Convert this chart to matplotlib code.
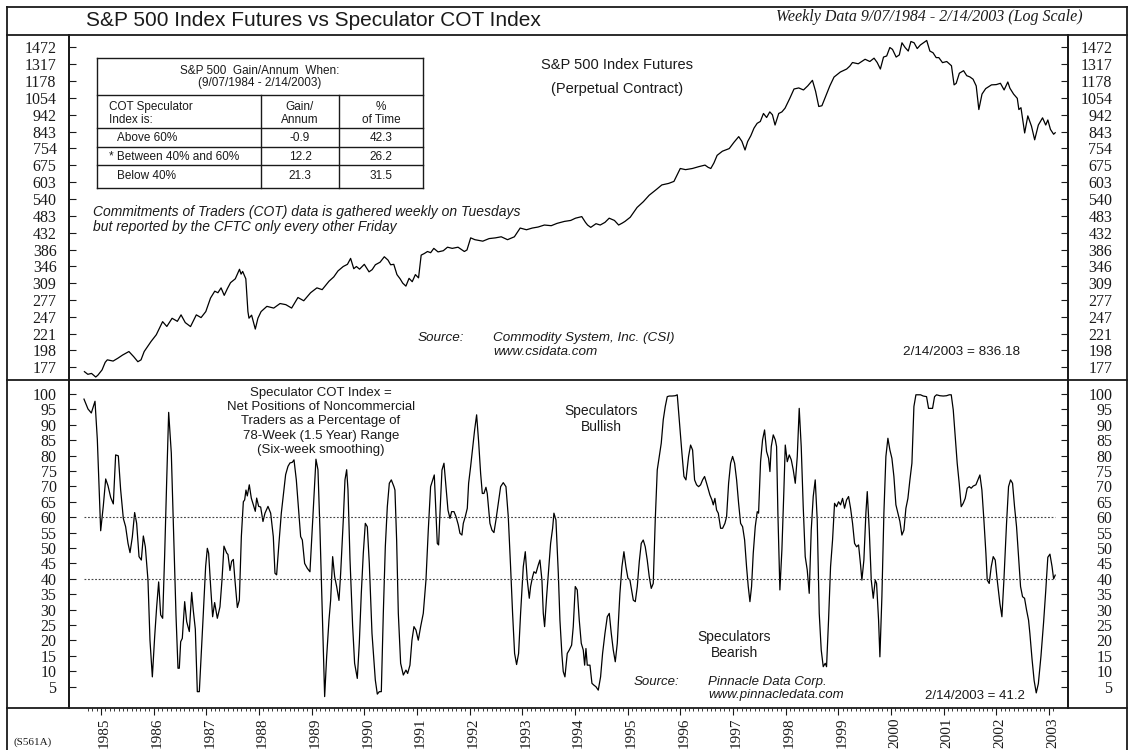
import matplotlib
matplotlib.use("Agg")
import matplotlib.pyplot as plt
from matplotlib.lines import Line2D
from matplotlib.ticker import FixedLocator, NullLocator, NullFormatter
from matplotlib.transforms import ScaledTranslation

W, H = 1129, 750

# S&P 500 futures, weekly closes (decimal year, index level)
sp_year = [1984.685, 1984.75, 1984.82, 1984.90, 1984.94, 1985.02, 1985.08, 1985.12, 1985.23, 1985.32,
           1985.41, 1985.53, 1985.62, 1985.70, 1985.76, 1985.82, 1985.95, 1986.05, 1986.17, 1986.25,
           1986.35, 1986.45, 1986.52, 1986.60, 1986.70, 1986.81, 1986.90, 1986.99, 1987.08, 1987.16,
           1987.22, 1987.28, 1987.34, 1987.40, 1987.46, 1987.55, 1987.63, 1987.66, 1987.69, 1987.75,
           1987.79, 1987.81, 1987.86, 1987.93, 1987.98, 1988.04, 1988.15, 1988.28, 1988.40, 1988.51,
           1988.62, 1988.74, 1988.85, 1988.98, 1989.10, 1989.20, 1989.33, 1989.42, 1989.50, 1989.60,
           1989.68, 1989.74, 1989.80, 1989.85, 1989.91, 1990.00, 1990.09, 1990.15, 1990.21, 1990.30,
           1990.38, 1990.45, 1990.50, 1990.56, 1990.62, 1990.68, 1990.73, 1990.79, 1990.85, 1990.91,
           1990.97, 1991.03, 1991.08, 1991.14, 1991.20, 1991.26, 1991.32, 1991.40, 1991.50, 1991.58,
           1991.67, 1991.78, 1991.90, 1991.95, 1992.02, 1992.10, 1992.25, 1992.37, 1992.49, 1992.60,
           1992.72, 1992.85, 1992.96, 1993.08, 1993.19, 1993.30, 1993.42, 1993.55, 1993.66, 1993.80,
           1993.92, 1994.01, 1994.08, 1994.13, 1994.20, 1994.24, 1994.30, 1994.40, 1994.48, 1994.57,
           1994.65, 1994.75, 1994.83, 1994.90, 1994.95, 1995.05, 1995.18, 1995.30, 1995.41, 1995.55,
           1995.65, 1995.78, 1995.88, 1996.00, 1996.10, 1996.23, 1996.35, 1996.47, 1996.53, 1996.58,
           1996.64, 1996.70, 1996.80, 1996.93, 1997.02, 1997.11, 1997.17, 1997.23, 1997.28, 1997.34,
           1997.40, 1997.46, 1997.52, 1997.58, 1997.64, 1997.70, 1997.75, 1997.80, 1997.87, 1997.93,
           1997.99, 1998.08, 1998.16, 1998.25, 1998.34, 1998.42, 1998.51, 1998.57, 1998.63, 1998.69,
           1998.75, 1998.84, 1998.92, 1999.04, 1999.16, 1999.22, 1999.27, 1999.38, 1999.51, 1999.60,
           1999.68, 1999.74, 1999.80, 1999.86, 1999.92, 1999.98, 2000.03, 2000.10, 2000.16, 2000.21,
           2000.27, 2000.33, 2000.38, 2000.44, 2000.50, 2000.56, 2000.62, 2000.68, 2000.74, 2000.80,
           2000.86, 2000.91, 2000.98, 2001.06, 2001.15, 2001.20, 2001.24, 2001.30, 2001.38, 2001.44,
           2001.50, 2001.56, 2001.62, 2001.67, 2001.73, 2001.80, 2001.91, 2002.00, 2002.08, 2002.15,
           2002.22, 2002.26, 2002.33, 2002.40, 2002.43, 2002.47, 2002.54, 2002.60, 2002.67, 2002.73,
           2002.80, 2002.88, 2002.94, 2002.98, 2003.03, 2003.09, 2003.12]
sp_value = [172, 169, 170, 166, 168, 174, 183, 186, 184.5, 188,
            192, 196.5, 190, 183.7, 186, 196.5, 210, 219.6, 239.5, 232,
            244.9, 240, 250.5, 238, 231.8, 250.5, 246, 256, 280, 293,
            290, 299.5, 285, 298, 310, 318, 338.7, 328, 334, 318,
            256, 245, 250, 228, 245, 256, 265, 262, 270, 268,
            262, 281, 275, 290, 299.5, 296, 313, 322, 335, 345,
            350, 364, 340, 345, 339, 350, 333, 338, 349, 355,
            368, 360, 349, 350, 327, 318, 309, 303, 319, 312,
            327, 320, 372, 376, 381, 378, 389, 380, 383, 392,
            389, 392, 381, 385, 417, 412, 408, 415, 417, 420,
            412, 420, 445, 440, 445, 448, 454, 452, 459, 465,
            468, 475, 478, 480, 462, 454, 447, 458, 454, 462,
            475, 468, 454, 460, 465, 478, 510, 530, 553, 575,
            592, 598, 606, 660, 655, 660, 668, 675, 665, 660,
            685, 720, 740, 753, 785, 815, 790, 746, 789, 820,
            862, 890, 901, 950, 925, 960, 942, 880, 950, 960,
            984, 1050, 1117, 1125, 1110, 1140, 1183, 1100, 995, 1000,
            1054, 1140, 1209, 1250, 1275, 1300, 1331, 1320, 1360, 1340,
            1370, 1331, 1275, 1380, 1390, 1470, 1452, 1380, 1400, 1517,
            1470, 1436, 1530, 1517, 1460, 1495, 1517, 1540, 1436, 1420,
            1375, 1375, 1330, 1340, 1303, 1148, 1160, 1240, 1261, 1220,
            1210, 1192, 1140, 975, 1080, 1120, 1148, 1150, 1160, 1110,
            1170, 1123, 1080, 1050, 975, 987, 835, 935, 873, 798,
            880, 923, 880, 910, 855, 828, 836.18]

# Speculator COT index (percent of 78-week range)
cot_year = [1984.677, 1984.753, 1984.816, 1984.886, 1984.930, 1984.994, 1985.044, 1985.089, 1985.133, 1985.184,
            1985.234, 1985.278, 1985.329, 1985.373, 1985.424, 1985.468, 1985.513, 1985.551, 1985.595, 1985.639,
            1985.677, 1985.722, 1985.766, 1985.804, 1985.842, 1985.892, 1985.930, 1985.975, 1986.019, 1986.057,
            1986.095, 1986.133, 1986.171, 1986.209, 1986.247, 1986.285, 1986.335, 1986.386, 1986.424, 1986.462,
            1986.487, 1986.513, 1986.544, 1986.589, 1986.627, 1986.677, 1986.722, 1986.753, 1986.791, 1986.829,
            1986.867, 1986.905, 1986.943, 1986.987, 1987.019, 1987.044, 1987.082, 1987.120, 1987.158, 1987.209,
            1987.259, 1987.297, 1987.335, 1987.386, 1987.411, 1987.449, 1987.481, 1987.513, 1987.544, 1987.589,
            1987.627, 1987.665, 1987.703, 1987.728, 1987.753, 1987.778, 1987.816, 1987.854, 1987.892, 1987.930,
            1987.956, 1987.994, 1988.032, 1988.076, 1988.114, 1988.171, 1988.222, 1988.272, 1988.304, 1988.335,
            1988.380, 1988.424, 1988.475, 1988.506, 1988.551, 1988.589, 1988.633, 1988.665, 1988.709, 1988.747,
            1988.791, 1988.823, 1988.867, 1988.918, 1988.968, 1989.000, 1989.044, 1989.082, 1989.120, 1989.158,
            1989.203, 1989.247, 1989.285, 1989.329, 1989.361, 1989.399, 1989.437, 1989.475, 1989.519, 1989.551,
            1989.601, 1989.633, 1989.665, 1989.690, 1989.728, 1989.778, 1989.816, 1989.867, 1989.905, 1989.943,
            1989.981, 1990.019, 1990.057, 1990.095, 1990.146, 1990.209, 1990.247, 1990.285, 1990.323, 1990.361,
            1990.399, 1990.437, 1990.475, 1990.513, 1990.563, 1990.582, 1990.614, 1990.646, 1990.690, 1990.741,
            1990.791, 1990.823, 1990.867, 1990.905, 1990.943, 1990.981, 1991.025, 1991.070, 1991.120, 1991.171,
            1991.215, 1991.259, 1991.310, 1991.329, 1991.361, 1991.386, 1991.411, 1991.437, 1991.475, 1991.513,
            1991.551, 1991.589, 1991.627, 1991.658, 1991.703, 1991.741, 1991.785, 1991.816, 1991.854, 1991.880,
            1991.918, 1991.956, 1991.981, 1992.019, 1992.057, 1992.095, 1992.133, 1992.171, 1992.209, 1992.241,
            1992.272, 1992.310, 1992.335, 1992.386, 1992.424, 1992.462, 1992.500, 1992.544, 1992.589, 1992.639,
            1992.690, 1992.734, 1992.778, 1992.816, 1992.854, 1992.892, 1992.930, 1992.968, 1993.019, 1993.057,
            1993.095, 1993.133, 1993.158, 1993.196, 1993.222, 1993.259, 1993.304, 1993.335, 1993.373, 1993.399,
            1993.424, 1993.462, 1993.500, 1993.538, 1993.576, 1993.601, 1993.639, 1993.684, 1993.715, 1993.753,
            1993.778, 1993.810, 1993.854, 1993.892, 1993.937, 1993.968, 1994.006, 1994.044, 1994.082, 1994.120,
            1994.158, 1994.184, 1994.209, 1994.234, 1994.285, 1994.323, 1994.361, 1994.399, 1994.443, 1994.487,
            1994.525, 1994.570, 1994.614, 1994.652, 1994.690, 1994.728, 1994.766, 1994.804, 1994.854, 1994.892,
            1994.930, 1994.968, 1995.006, 1995.044, 1995.070, 1995.108, 1995.146, 1995.184, 1995.222, 1995.259,
            1995.297, 1995.335, 1995.373, 1995.411, 1995.449, 1995.487, 1995.525, 1995.563, 1995.601, 1995.639,
            1995.677, 1995.715, 1995.753, 1995.791, 1995.842, 1995.905, 1995.943, 1995.994, 1996.032, 1996.070,
            1996.108, 1996.158, 1996.196, 1996.234, 1996.272, 1996.310, 1996.348, 1996.386, 1996.424, 1996.462,
            1996.500, 1996.563, 1996.601, 1996.627, 1996.658, 1996.690, 1996.722, 1996.766, 1996.804, 1996.848,
            1996.880, 1996.918, 1996.956, 1996.994, 1997.032, 1997.070, 1997.108, 1997.146, 1997.184, 1997.222,
            1997.259, 1997.291, 1997.323, 1997.354, 1997.386, 1997.424, 1997.462, 1997.487, 1997.525, 1997.563,
            1997.601, 1997.639, 1997.677, 1997.703, 1997.728, 1997.766, 1997.804, 1997.829, 1997.854, 1997.892,
            1997.930, 1997.968, 1997.994, 1998.032, 1998.070, 1998.108, 1998.146, 1998.184, 1998.222, 1998.259,
            1998.297, 1998.335, 1998.373, 1998.411, 1998.449, 1998.487, 1998.525, 1998.563, 1998.601, 1998.639,
            1998.677, 1998.715, 1998.753, 1998.778, 1998.816, 1998.854, 1998.892, 1998.930, 1998.968, 1999.006,
            1999.044, 1999.082, 1999.120, 1999.158, 1999.196, 1999.234, 1999.272, 1999.310, 1999.348, 1999.386,
            1999.424, 1999.449, 1999.487, 1999.525, 1999.551, 1999.589, 1999.627, 1999.665, 1999.703, 1999.728,
            1999.766, 1999.791, 1999.829, 1999.867, 1999.905, 1999.943, 1999.981, 2000.019, 2000.057, 2000.095,
            2000.133, 2000.171, 2000.209, 2000.247, 2000.285, 2000.323, 2000.361, 2000.399, 2000.437, 2000.475,
            2000.519, 2000.563, 2000.614, 2000.677, 2000.715, 2000.753, 2000.791, 2000.829, 2000.867, 2000.930,
            2000.994, 2001.057, 2001.108, 2001.146, 2001.184, 2001.222, 2001.259, 2001.297, 2001.335, 2001.373,
            2001.411, 2001.449, 2001.487, 2001.525, 2001.563, 2001.614, 2001.652, 2001.690, 2001.728, 2001.766,
            2001.804, 2001.829, 2001.867, 2001.905, 2001.943, 2001.981, 2002.019, 2002.070, 2002.108, 2002.146,
            2002.196, 2002.234, 2002.272, 2002.310, 2002.348, 2002.386, 2002.424, 2002.462, 2002.500, 2002.538,
            2002.576, 2002.614, 2002.639, 2002.680, 2002.720, 2002.760, 2002.800, 2002.850, 2002.900, 2002.940,
            2002.980, 2003.020, 2003.060, 2003.090, 2003.120]
cot_value = [98.3, 95.1, 93.8, 97.6, 85.3, 55.6, 63.7, 72.4, 70.2, 66.4,
             64.3, 80.2, 79.9, 68.9, 59.6, 56.9, 51.5, 48.5, 53.6, 61.5,
             58.0, 47.2, 46.1, 53.9, 50.4, 39.6, 20.1, 8.2, 21.2, 30.9,
             39.0, 28.3, 27.2, 47.8, 71.6, 94.0, 80.8, 50.4, 28.3, 11.0,
             11.0, 19.6, 20.7, 32.6, 26.1, 22.9, 35.6, 29.7, 23.7, 3.4,
             3.4, 15.8, 28.8, 44.0, 49.9, 48.3, 37.5, 27.7, 32.3, 27.2,
             30.9, 39.5, 50.6, 48.4, 47.9, 42.7, 45.7, 46.3, 39.5, 30.7,
             33.1, 53.7, 65.0, 65.6, 68.8, 66.9, 70.5, 66.2, 64.0, 61.9,
             66.2, 63.5, 63.3, 58.6, 61.3, 63.5, 61.3, 53.7, 41.8, 41.3,
             51.7, 61.3, 68.9, 73.8, 76.5, 77.6, 77.8, 78.6, 72.1, 63.5,
             53.7, 52.6, 45.0, 43.4, 42.3, 52.6, 66.7, 78.8, 75.4, 55.9,
             28.8, 1.8, 14.7, 26.6, 33.1, 47.2, 40.7, 37.5, 33.0, 41.8,
             59.1, 72.1, 75.4, 68.9, 46.5, 24.9, 12.6, 7.7, 19.1, 35.3,
             48.3, 58.0, 56.9, 45.0, 22.3, 7.2, 2.6, 3.4, 3.4, 28.8,
             50.4, 63.4, 71.0, 72.1, 69.9, 68.8, 52.6, 28.8, 12.6, 8.8,
             10.4, 9.3, 12.0, 20.1, 24.5, 23.4, 20.1, 24.5, 28.8, 39.6,
             55.8, 69.9, 72.6, 73.7, 61.3, 51.5, 51.0, 61.3, 75.3, 77.5,
             69.9, 62.3, 59.6, 61.8, 61.8, 60.2, 57.5, 54.8, 54.2, 58.0,
             60.2, 62.9, 71.0, 76.4, 82.4, 88.3, 93.2, 84.5, 74.2, 67.7,
             67.7, 69.7, 67.7, 58.0, 55.8, 55.0, 59.1, 64.5, 69.9, 71.2,
             69.9, 60.2, 43.9, 28.8, 15.8, 12.2, 15.8, 28.8, 43.9, 48.8,
             39.6, 33.7, 37.5, 40.7, 42.3, 41.8, 44.5, 46.1, 39.6, 28.8,
             24.5, 34.2, 42.9, 51.5, 56.4, 61.3, 59.1, 41.8, 26.6, 15.3,
             9.9, 8.2, 15.8, 16.9, 18.5, 24.5, 37.5, 36.4, 26.6, 19.1,
             16.9, 12.0, 17.4, 12.0, 12.0, 6.1, 5.5, 5.0, 3.9, 8.2,
             15.8, 22.3, 27.7, 28.8, 22.3, 16.9, 13.1, 19.1, 35.3, 43.9,
             48.8, 43.9, 40.2, 39.6, 36.9, 33.1, 32.6, 37.5, 45.6, 51.5,
             52.6, 50.4, 46.1, 40.7, 36.9, 38.5, 59.1, 75.3, 79.7, 84.0,
             91.6, 95.9, 99.1, 99.3, 99.3, 99.4, 99.7, 88.8, 80.7, 73.2,
             72.1, 79.7, 83.4, 81.8, 72.1, 70.5, 69.9, 70.5, 72.1, 73.2,
             71.0, 67.2, 65.6, 64.0, 66.1, 62.3, 61.3, 56.4, 56.4, 58.0,
             60.2, 71.0, 77.5, 79.7, 77.5, 72.1, 64.5, 58.0, 56.9, 52.6,
             43.9, 37.5, 32.6, 37.5, 48.3, 56.9, 61.8, 61.3, 78.0, 85.1,
             88.3, 81.3, 79.1, 74.8, 82.9, 86.7, 85.1, 82.9, 61.3, 36.4,
             49.4, 68.8, 83.4, 78.0, 80.2, 78.6, 75.3, 71.0, 79.7, 95.3,
             82.9, 63.4, 47.2, 42.9, 35.3, 55.8, 66.7, 72.1, 59.1, 28.8,
             16.9, 11.5, 12.6, 11.5, 26.6, 43.9, 52.6, 64.5, 63.4, 65.0,
             64.0, 66.1, 62.9, 65.6, 66.7, 62.9, 58.0, 51.5, 50.4, 51.0,
             44.5, 39.6, 46.1, 61.3, 68.3, 55.8, 39.6, 33.7, 39.6, 38.5,
             26.6, 14.7, 34.2, 61.3, 79.7, 85.6, 81.8, 79.1, 73.2, 64.0,
             61.3, 58.6, 54.2, 55.8, 62.9, 66.1, 72.1, 77.5, 95.9, 99.7,
             99.7, 99.7, 99.3, 99.1, 95.3, 95.3, 95.3, 99.1, 99.7, 99.4,
             99.3, 99.4, 99.7, 99.7, 94.8, 86.1, 77.5, 71.0, 63.4, 64.5,
             66.1, 69.4, 69.9, 69.4, 70.1, 70.5, 72.1, 73.7, 68.8, 59.1,
             48.3, 39.6, 38.5, 43.9, 47.2, 46.1, 39.6, 32.0, 27.7, 39.6,
             58.0, 69.9, 72.1, 71.0, 63.4, 56.9, 47.2, 37.5, 34.2, 33.7,
             29.9, 26.6, 22.3, 14.0, 7.0, 3.0, 6.0, 15.0, 26.0, 36.0,
             47.0, 48.0, 44.0, 40.0, 41.2]

sp_ticks = [177, 198, 221, 247, 277, 309, 346, 386, 432, 483,
            540, 603, 675, 754, 843, 942, 1054, 1178, 1317, 1472]
cot_ticks = [5, 10, 15, 20, 25, 30, 35, 40, 45, 50,
             55, 60, 65, 70, 75, 80, 85, 90, 95, 100]
year_ticks = list(range(1985, 2004))
month_ticks = [1984 + m / 12 for m in range(9, 12 * 19 + 2)]
cot_bands = [40, 60]

table_rows = ["Above 60%", "* Between 40% and 60%", "Below 40%"]
table_gain = ["-0.9", "12.2", "21.3"]
table_time = ["42.3", "26.2", "31.5"]

SANS = ["Liberation Sans", "DejaVu Sans"]
SERIF = ["Liberation Serif", "DejaVu Serif"]
INK = "#1a1a1a"

plt.rcParams["font.family"] = SERIF


def fx(px):
    return px / W


def fy(py):
    return 1 - py / H


def hline(fig, y, xa, xb, lw=1.3):
    fig.add_artist(Line2D([fx(xa), fx(xb)], [fy(y), fy(y)], transform=fig.transFigure, color=INK, lw=lw))


def vline(fig, x, ya, yb, lw=1.3):
    fig.add_artist(Line2D([fx(x), fx(x)], [fy(ya), fy(yb)], transform=fig.transFigure, color=INK, lw=lw))


def label(fig, x, y, s, ha="left", size=9.5, style="normal", family=None):
    fig.text(fx(x), fy(y), s, ha=ha, va="center", fontsize=size, fontstyle=style,
             family=family or SANS, color=INK)


def style_y(ax, ticks, labels, right_pad):
    ax.yaxis.set_major_locator(FixedLocator(ticks))
    ax.yaxis.set_minor_locator(NullLocator())
    ax.yaxis.set_minor_formatter(NullFormatter())
    ax.set_yticklabels(labels)
    ax.tick_params(axis="y", which="major", direction="in", length=5, width=0.8, color=INK,
                   left=True, right=False, labelleft=True, labelright=False, labelsize=11.5, pad=9,
                   labelcolor=INK)
    twin = ax.twinx()
    twin.set_yscale(ax.get_yscale())
    twin.set_ylim(ax.get_ylim())
    twin.yaxis.set_major_locator(FixedLocator(ticks))
    twin.yaxis.set_minor_locator(NullLocator())
    twin.yaxis.set_minor_formatter(NullFormatter())
    twin.set_yticklabels(labels)
    twin.tick_params(axis="y", which="major", direction="in", length=5, width=0.8, color=INK,
                     labelsize=11.5, pad=right_pad, labelcolor=INK)
    for lbl in twin.get_yticklabels():
        lbl.set_horizontalalignment("right")
    for a in (ax, twin):
        for side in ("top", "bottom"):
            a.spines[side].set_visible(False)
        for side in ("left", "right"):
            a.spines[side].set_linewidth(1.3)
            a.spines[side].set_color(INK)
    return twin


fig = plt.figure(figsize=(W / 100, H / 100), dpi=100)
fig.patch.set_facecolor("white")

x_left, x_right = 69, 1068
px_per_year = 52.66
year_at_left = 1985 + (x_left - 101) / px_per_year
year_at_right = 1985 + (x_right - 101) / px_per_year

# top panel: S&P futures, log scale
ax1 = fig.add_axes([fx(x_left), fy(379.5), (x_right - x_left) / W, (379.5 - 35) / H])
ax1.set_yscale("log")
ax1.plot(sp_year, sp_value, color="black", lw=0.9)
ax1.set_xlim(year_at_left, year_at_right)
ax1.set_ylim(163.3, 1597)
ax1.xaxis.set_major_locator(NullLocator())
ax1.xaxis.set_minor_locator(NullLocator())
style_y(ax1, sp_ticks, [str(v) for v in sp_ticks], 32)
ax1.tick_params(axis="x", bottom=False, labelbottom=False)

# bottom panel: COT index
ax2 = fig.add_axes([fx(x_left), fy(708), (x_right - x_left) / W, (708 - 380) / H])
ax2.plot(cot_year, cot_value, color="black", lw=0.9)
ax2.hlines(cot_bands, cot_year[0], cot_year[-1], colors="#444444", linestyles=(0, (1.6, 1.6)), lw=0.8)
ax2.set_xlim(year_at_left, year_at_right)
ax2.set_ylim(-1.9, 104.5)
twin2 = style_y(ax2, cot_ticks, [str(v) for v in cot_ticks], 32)
twin2.tick_params(axis="x", bottom=False, labelbottom=False)
ax2.xaxis.set_major_locator(FixedLocator(year_ticks))
ax2.xaxis.set_minor_locator(FixedLocator(month_ticks))
ax2.set_xticklabels([str(y) for y in year_ticks])
ax2.tick_params(axis="x", which="major", direction="out", length=5, width=0.8, color=INK,
                labelsize=11, pad=2, labelrotation=90, labelcolor=INK)
ax2.tick_params(axis="x", which="minor", direction="out", length=2.5, width=0.6, color=INK)
shift = ScaledTranslation(3.5 / 100, 0, fig.dpi_scale_trans)
for lbl in ax2.get_xticklabels():
    lbl.set_transform(lbl.get_transform() + shift)
    lbl.set_verticalalignment("top")

# frame lines
hline(fig, 7, 7, 1127)
hline(fig, 35, 7, 1127)
hline(fig, 379.5, 7, 1127)
hline(fig, 708, 7, 1127)
vline(fig, 7, 7, 750)
vline(fig, 1127, 7, 750)

# titles
label(fig, 313, 21, "S&P 500 Index Futures vs Speculator COT Index", ha="center", size=15)
label(fig, 1083, 17, "Weekly Data 9/07/1984 - 2/14/2003 (Log Scale)", ha="right", size=11.5,
      style="italic", family=SERIF)
label(fig, 13, 742, "(S561A)", size=8, family=SERIF)

# table
t_left, t_right, c1, c2 = 97, 423, 261, 339
t_top, t_hdr, t_col, t_r1, t_r2, t_bot = 58, 95, 128, 147, 165, 188
for yy in (t_top, t_hdr, t_col, t_r1, t_r2, t_bot):
    hline(fig, yy, t_left, t_right, lw=1.0)
vline(fig, t_left, t_top, t_bot, lw=1.0)
vline(fig, t_right, t_top, t_bot, lw=1.0)
vline(fig, c1, t_hdr, t_bot, lw=1.0)
vline(fig, c2, t_hdr, t_bot, lw=1.0)
tsz = 8.5
label(fig, (t_left + t_right) / 2, 71, "S&P 500  Gain/Annum  When:", ha="center", size=tsz)
label(fig, (t_left + t_right) / 2, 83, "(9/07/1984 - 2/14/2003)", ha="center", size=tsz)
label(fig, 109, 107, "COT Speculator", size=tsz)
label(fig, 109, 120, "Index is:", size=tsz)
label(fig, (c1 + c2) / 2, 107, "Gain/", ha="center", size=tsz)
label(fig, (c1 + c2) / 2, 120, "Annum", ha="center", size=tsz)
label(fig, (c2 + t_right) / 2, 107, "%", ha="center", size=tsz)
label(fig, (c2 + t_right) / 2, 120, "of Time", ha="center", size=tsz)
for row_y, name, gain, share in zip((138, 157, 176), table_rows, table_gain, table_time):
    label(fig, 109 if name.startswith("*") else 117, row_y, name, size=tsz)
    label(fig, (c1 + c2) / 2, row_y, gain, ha="center", size=tsz)
    label(fig, (c2 + t_right) / 2, row_y, share, ha="center", size=tsz)

# top panel notes
label(fig, 617, 65, "S&P 500 Index Futures", ha="center", size=10.5)
label(fig, 617, 89, "(Perpetual Contract)", ha="center", size=10.5)
label(fig, 93, 212, "Commitments of Traders (COT) data is gathered weekly on Tuesdays", size=10, style="italic")
label(fig, 93, 227, "but reported by the CFTC only every other Friday", size=10, style="italic")
label(fig, 418, 338, "Source:", size=9.7, style="italic")
label(fig, 493, 338, "Commodity System, Inc. (CSI)", size=9.7, style="italic")
label(fig, 493, 352, "www.csidata.com", size=9.7, style="italic")
label(fig, 1020, 352, "2/14/2003 = 836.18", ha="right", size=9.7)

# bottom panel notes
for i, s in enumerate(["Speculator COT Index =", "Net Positions of Noncommercial",
                       "Traders as a Percentage of", "78-Week (1.5 Year) Range",
                       "(Six-week smoothing)"]):
    label(fig, 321, 393 + 14.2 * i, s, ha="center", size=9.5)
label(fig, 601, 411, "Speculators", ha="center", size=10)
label(fig, 601, 427, "Bullish", ha="center", size=10)
label(fig, 734, 637, "Speculators", ha="center", size=10)
label(fig, 734, 653, "Bearish", ha="center", size=10)
label(fig, 634, 682, "Source:", size=9.5, style="italic")
label(fig, 708, 682, "Pinnacle Data Corp.", size=9.5, style="italic")
label(fig, 708, 695, "www.pinnacledata.com", size=9.5, style="italic")
label(fig, 1025, 696, "2/14/2003 = 41.2", ha="right", size=9.5)

fig.savefig("out.png", dpi=100, facecolor="white")
plt.close(fig)
